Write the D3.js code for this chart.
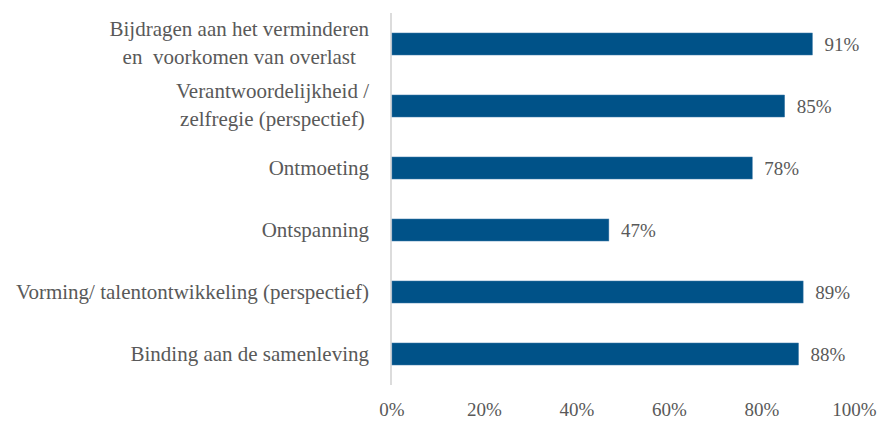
<!DOCTYPE html>
<html><head><meta charset="utf-8">
<script src="https://cdn.jsdelivr.net/npm/d3@7"></script>
<style>body{margin:0;background:#fff}</style>
</head><body><svg id="c" width="880" height="421"></svg>
<script>
const categories = [
  ["Bijdragen aan het verminderen", "en  voorkomen van overlast"],
  ["Verantwoordelijkheid /", "zelfregie (perspectief)"],
  ["Ontmoeting"],
  ["Ontspanning"],
  ["Vorming/ talentontwikkeling (perspectief)"],
  ["Binding aan de samenleving"]
];
const values = [0.91, 0.85, 0.78, 0.47, 0.89, 0.88];
const ticks = [0, 0.2, 0.4, 0.6, 0.8, 1.0];

const FONT = "'Liberation Serif', 'Times New Roman', serif";
const FS_CAT = 21;
const FS_NUM = 19;
const svg = d3.select("#c");
const x = d3.scaleLinear().domain([0, 1]).range([391.5, 854]);
const y = d3.scaleBand().domain(d3.range(categories.length)).range([13, 385]).paddingInner(0.645).paddingOuter(0.3225);

svg.append("line").attr("x1", 391).attr("x2", 391).attr("y1", 13).attr("y2", 385)
  .attr("stroke", "#d0d0d0").attr("stroke-width", 1.5);

svg.selectAll("rect.bar").data(values).join("rect").attr("class", "bar")
  .attr("x", x(0) + 0.5).attr("y", (d, i) => y(i))
  .attr("width", d => x(d) - x(0) - 0.5).attr("height", y.bandwidth())
  .attr("fill", "#005288").attr("stroke", "#3f7aa8").attr("stroke-width", 0.5);

svg.selectAll("text.val").data(values).join("text").attr("class", "val")
  .attr("x", d => x(d) + 12).attr("y", (d, i) => y(i) + y.bandwidth() / 2)
  .attr("dy", "0.35em").attr("font-size", FS_NUM).style("font-family", FONT).attr("fill", "#595959")
  .text(d => Math.round(d * 100) + "%");

const lh = 28;
categories.forEach((lines, i) => {
  const cy = y(i) + y.bandwidth() / 2;
  const g = svg.append("text").attr("font-size", FS_CAT).style("font-family", FONT).style("white-space", "pre")
    .attr("fill", "#595959").attr("text-anchor", "middle");
  const ts = lines.map((l, j) => g.append("tspan").attr("x", 0)
    .attr("y", cy + (j - (lines.length - 1) / 2) * lh - (lines.length > 1 ? 1.5 : 0)).attr("dy", "0.35em").text(l));
  const w = d3.max(ts, t => t.node().getComputedTextLength());
  ts.forEach(t => t.attr("x", 369 - w / 2));
});

const xAxis = d3.axisBottom(x).tickValues(ticks).tickFormat(d3.format(".0%")).tickSize(0).tickPadding(0);
const ga = svg.append("g").attr("transform", "translate(0,399)").call(xAxis);
ga.select(".domain").remove();
ga.selectAll("text").attr("font-size", FS_NUM).attr("dy", "0.9em").style("font-family", FONT).attr("fill", "#595959");
</script></body></html>
